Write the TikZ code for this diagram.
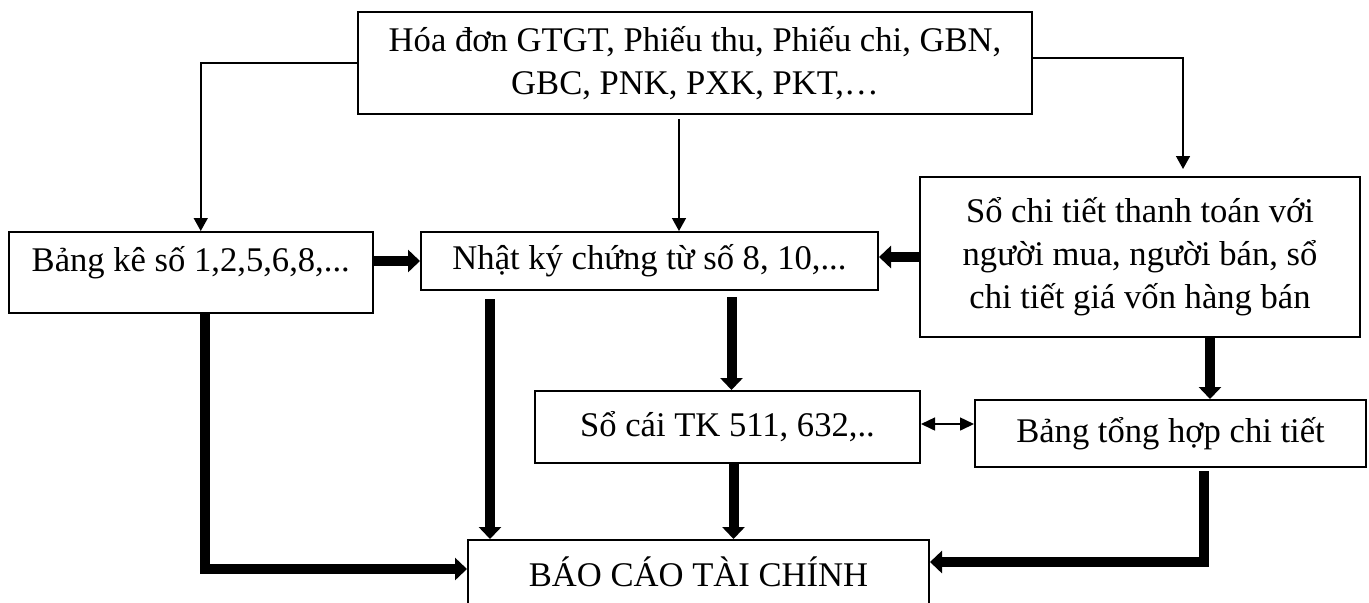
\documentclass[tikz,border=0pt]{standalone}
\usepackage{fontspec}
\setmainfont{Liberation Serif}
\usetikzlibrary{arrows.meta}
\tikzset{
  box/.style={draw, line width=1pt, inner sep=0pt, align=center,
    font=\fontsize{17.3pt}{21.5pt}\selectfont},
  thinarr/.style={line width=0.75pt, -{Triangle[width=7pt,length=6.5pt]}},
  dblarr/.style={line width=0.75pt, {Triangle[width=6.5pt,length=7pt]}-{Triangle[width=6.5pt,length=7pt]}},
  thickarr/.style={line width=5pt, line join=miter, -{Triangle[width=11pt,length=6pt]}}
}
\begin{document}
\begin{tikzpicture}[x=0.5pt,y=-0.5pt]
\clip (0,0) rectangle (1369,602);
\node[box, minimum width=337pt, minimum height=51pt] (top) at (695,63)
  {Hóa đơn GTGT, Phiếu thu, Phiếu chi, GBN,\\GBC, PNK, PXK, PKT,…};
\node[box, minimum width=182.25pt, minimum height=40.5pt] (bk) at (190.75,272.5)
  {\raisebox{5pt}[\height][\depth]{Bảng kê số 1,2,5,6,8,...}};
\node[box, minimum width=228.5pt, minimum height=29pt] (nk) at (649.5,261)
  {Nhật ký chứng từ số 8, 10,...};
\node[box, minimum width=220pt, minimum height=80pt] (sct) at (1140,257)
  {Sổ chi tiết thanh toán với\\người mua, người bán, sổ\\chi tiết giá vốn hàng bán};
\node[box, minimum width=192.5pt, minimum height=36pt] (sc) at (727.5,427)
  {Sổ cái TK 511, 632,..};
\node[box, minimum width=195.5pt, minimum height=33.5pt] (bth) at (1170.5,433.5)
  {Bảng tổng hợp chi tiết};
\node[box, minimum width=230.5pt, minimum height=32pt] (bc) at (698.5,572)
  {BÁO CÁO TÀI CHÍNH};

% thin connectors from the top box
\draw[thinarr] (top.west) -| ([xshift=5pt]bk.north);
\draw[thinarr, shorten <=2pt] ([xshift=-8pt]top.south) -- ([xshift=-8pt]top.south |- nk.north);
\draw[thinarr, shorten >=3.5pt] ([yshift=2.5pt]top.east) -| ([xshift=21.5pt]sct.north);

% thick horizontal arrows into Nhat ky
\draw[thickarr] (bk.east |- nk.west) -- (nk.west);
\draw[thickarr] (sct.west) -- (sct.west -| nk.east);

% from Nhat ky downward
\draw[thickarr, shorten <=4pt] ([xshift=-79.75pt]nk.south) -- ([xshift=-79.75pt]nk.south |- bc.north);
\draw[thickarr, shorten <=3pt] ([xshift=2pt]sc.north |- nk.south) -- ([xshift=2pt]sc.north);

% So cai to Bao cao
\draw[thickarr] ([xshift=3pt]sc.south) -- ([xshift=3pt]sc.south |- bc.north);

% So chi tiet to Bang tong hop
\draw[thickarr] ([xshift=35pt]sct.south) -- ([xshift=35pt]sct.south |- bth.north);

% double arrow So cai <-> Bang tong hop
\draw[dblarr] ([yshift=1.5pt]sc.east) -- ([yshift=1.5pt]sc.east -| bth.west);

% Bang tong hop to Bao cao
\draw[thickarr, shorten <=1.5pt] ([xshift=16.75pt]bth.south) |- ([yshift=5pt]bc.east);

% Bang ke to Bao cao
\draw[thickarr] ([xshift=7pt]bk.south) |- ([yshift=1.5pt]bc.west);
\end{tikzpicture}
\end{document}
